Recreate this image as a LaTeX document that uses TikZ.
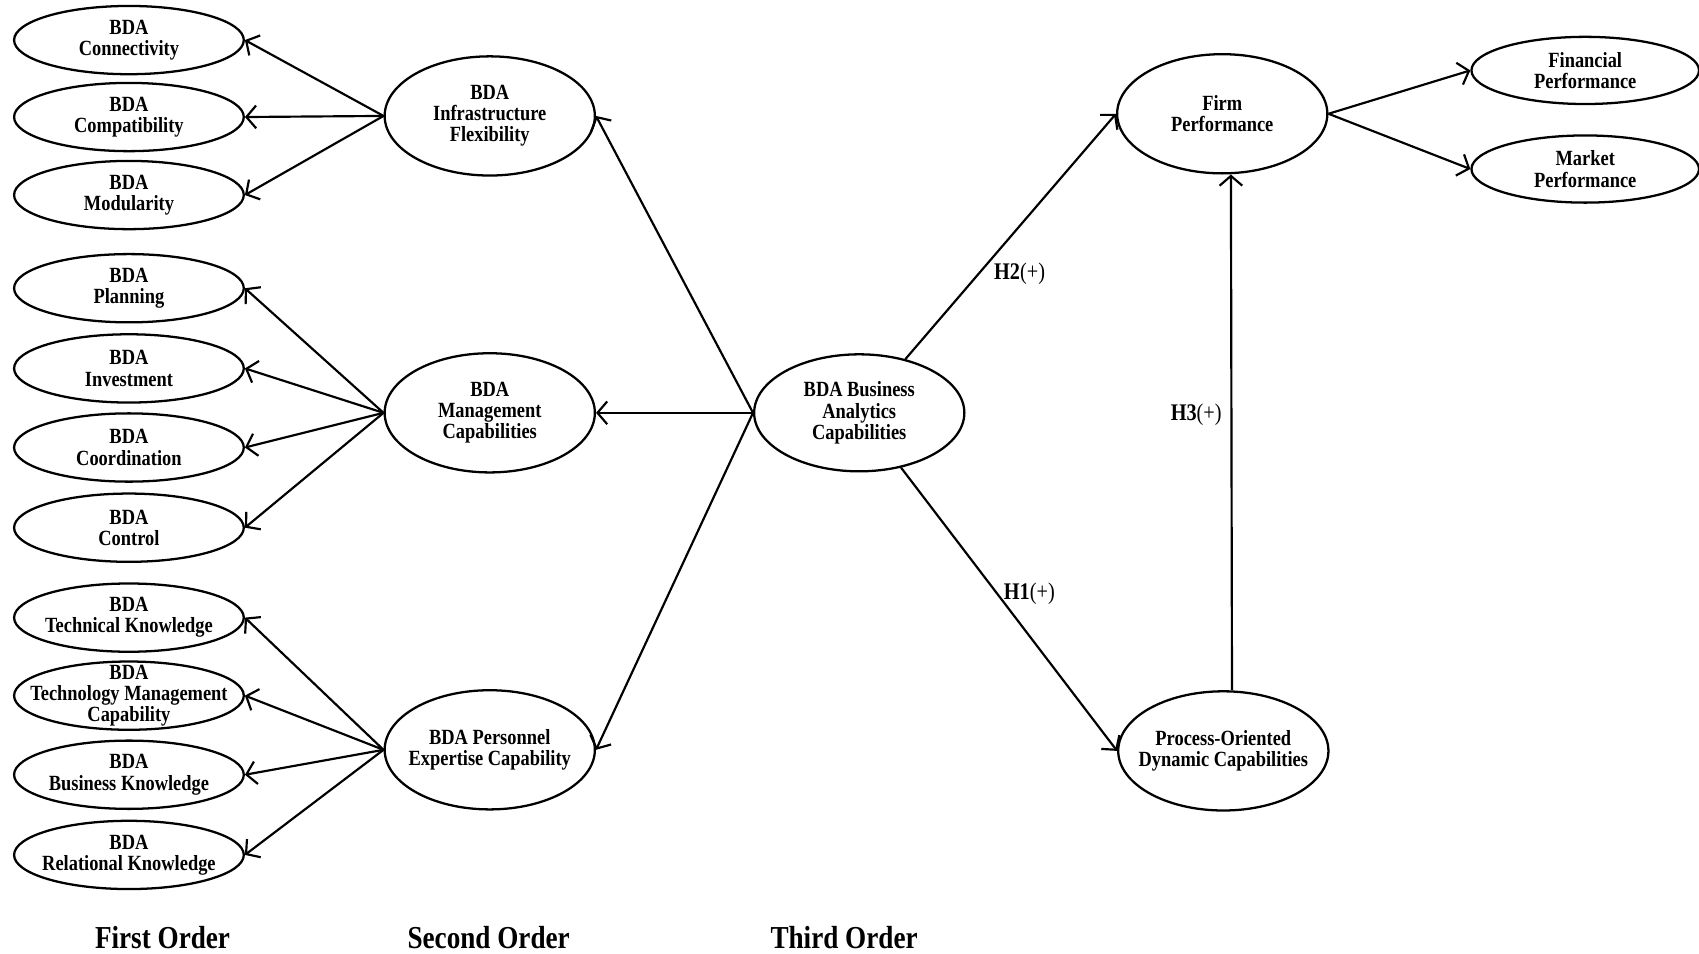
\documentclass[tikz,border=0pt]{standalone}
\usepackage{fontspec}
\setmainfont{Liberation Serif}[FakeStretch=0.85]
\usetikzlibrary{shapes.geometric,arrows.meta}
\begin{document}
\begin{tikzpicture}[x=1pt,y=-1pt,
  lbl/.style={font=\bfseries\fontsize{20}{19.5}\selectfont,align=center,inner sep=0pt},
  ell/.style={draw,ellipse,line width=2.1pt,inner sep=0pt},
  fo/.style={ell,minimum width=212pt,minimum height=63pt},
  so/.style={ell,minimum width=194pt,minimum height=110pt},
  tail/.style={ell,minimum width=210pt,minimum height=62pt},
  conn/.style={-{Straight Barb[length=9pt,width=21pt]},line width=2pt},
  hyp/.style={font=\fontsize{22}{23}\selectfont,inner sep=0pt},
  order/.style={font=\bfseries\fontsize{29.5}{30}\selectfont,inner sep=0pt}
]
\useasboundingbox (0,0) rectangle (1568,880);
% first order
\node[fo,label={[lbl]center:{BDA\\Connectivity}}] (c1) at (119,37) {};
\node[fo,label={[lbl]center:{BDA\\Compatibility}}] (c2) at (119,108) {};
\node[fo,label={[lbl]center:{BDA\\Modularity}}] (c3) at (119,180) {};
\node[fo,label={[lbl]center:{BDA\\Planning}}] (m1) at (119,266) {};
\node[fo,label={[lbl]center:{BDA\\Investment}}] (m2) at (119,340) {};
\node[fo,label={[lbl]center:{BDA\\Coordination}}] (m3) at (119,413) {};
\node[fo,label={[lbl]center:{BDA\\Control}}] (m4) at (119,487) {};
\node[fo,label={[lbl]center:{BDA\\Technical Knowledge}}] (p1) at (119,570) {};
\node[fo,label={[lbl]center:{BDA\\Technology Management\\Capability}}] (p2) at (119,642) {};
\node[fo,label={[lbl]center:{BDA\\Business Knowledge}}] (p3) at (119,715) {};
\node[fo,label={[lbl]center:{BDA\\Relational Knowledge}}] (p4) at (119,789) {};
% second order
\node[so,label={[lbl]center:{BDA\\Infrastructure\\Flexibility}}] (infra) at (452,107) {};
\node[so,label={[lbl]center:{BDA\\Management\\Capabilities}}] (mgmt) at (452,381) {};
\node[so,label={[lbl]center:{BDA Personnel\\Expertise Capability}}] (pers) at (452,692) {};
% third order
\node[so,minimum height=108pt,label={[lbl]center:{BDA Business\\Analytics\\Capabilities}}] (bac) at (793,381) {};
% outcomes
\node[so,label={[lbl]center:{Firm\\Performance}}] (firm) at (1128,105) {};
\node[so,label={[lbl]center:{Process-Oriented\\Dynamic Capabilities}}] (proc) at (1129,693) {};
\node[tail,label={[lbl]center:{Financial\\Performance}}] (fin) at (1463,65) {};
\node[tail,label={[lbl]center:{Market\\Performance}}] (mkt) at (1463,156) {};
% connectors
\foreach \t in {c1,c2,c3} \draw[conn] (infra.west) -- (\t.east);
\foreach \t in {m1,m2,m3,m4} \draw[conn] (mgmt.west) -- (\t.east);
\foreach \t in {p1,p2,p3,p4} \draw[conn] (pers.west) -- (\t.east);
\foreach \t in {infra,mgmt,pers} \draw[conn] (bac.west) -- (\t.east);
\draw[conn] (bac) -- (firm.west);
\draw[conn] (bac) -- (proc.west);
\draw[conn] ([xshift=8pt]proc.north) -- ([xshift=8pt]firm.south);
\draw[conn] (firm.east) -- (fin.west);
\draw[conn] (firm.east) -- (mkt.west);
% hypotheses
\node[hyp] (h2) at (941,253) {\textbf{H2}(+)};
\node[hyp] (h1) at (950,548) {\textbf{H1}(+)};
\node[hyp] (h3) at (1104,383) {\textbf{H3}(+)};
% order labels
\node[order] (o1) at (150,865) {First Order};
\node[order] (o2) at (451,865) {Second Order};
\node[order] (o3) at (779,865) {Third Order};
\end{tikzpicture}
\end{document}
